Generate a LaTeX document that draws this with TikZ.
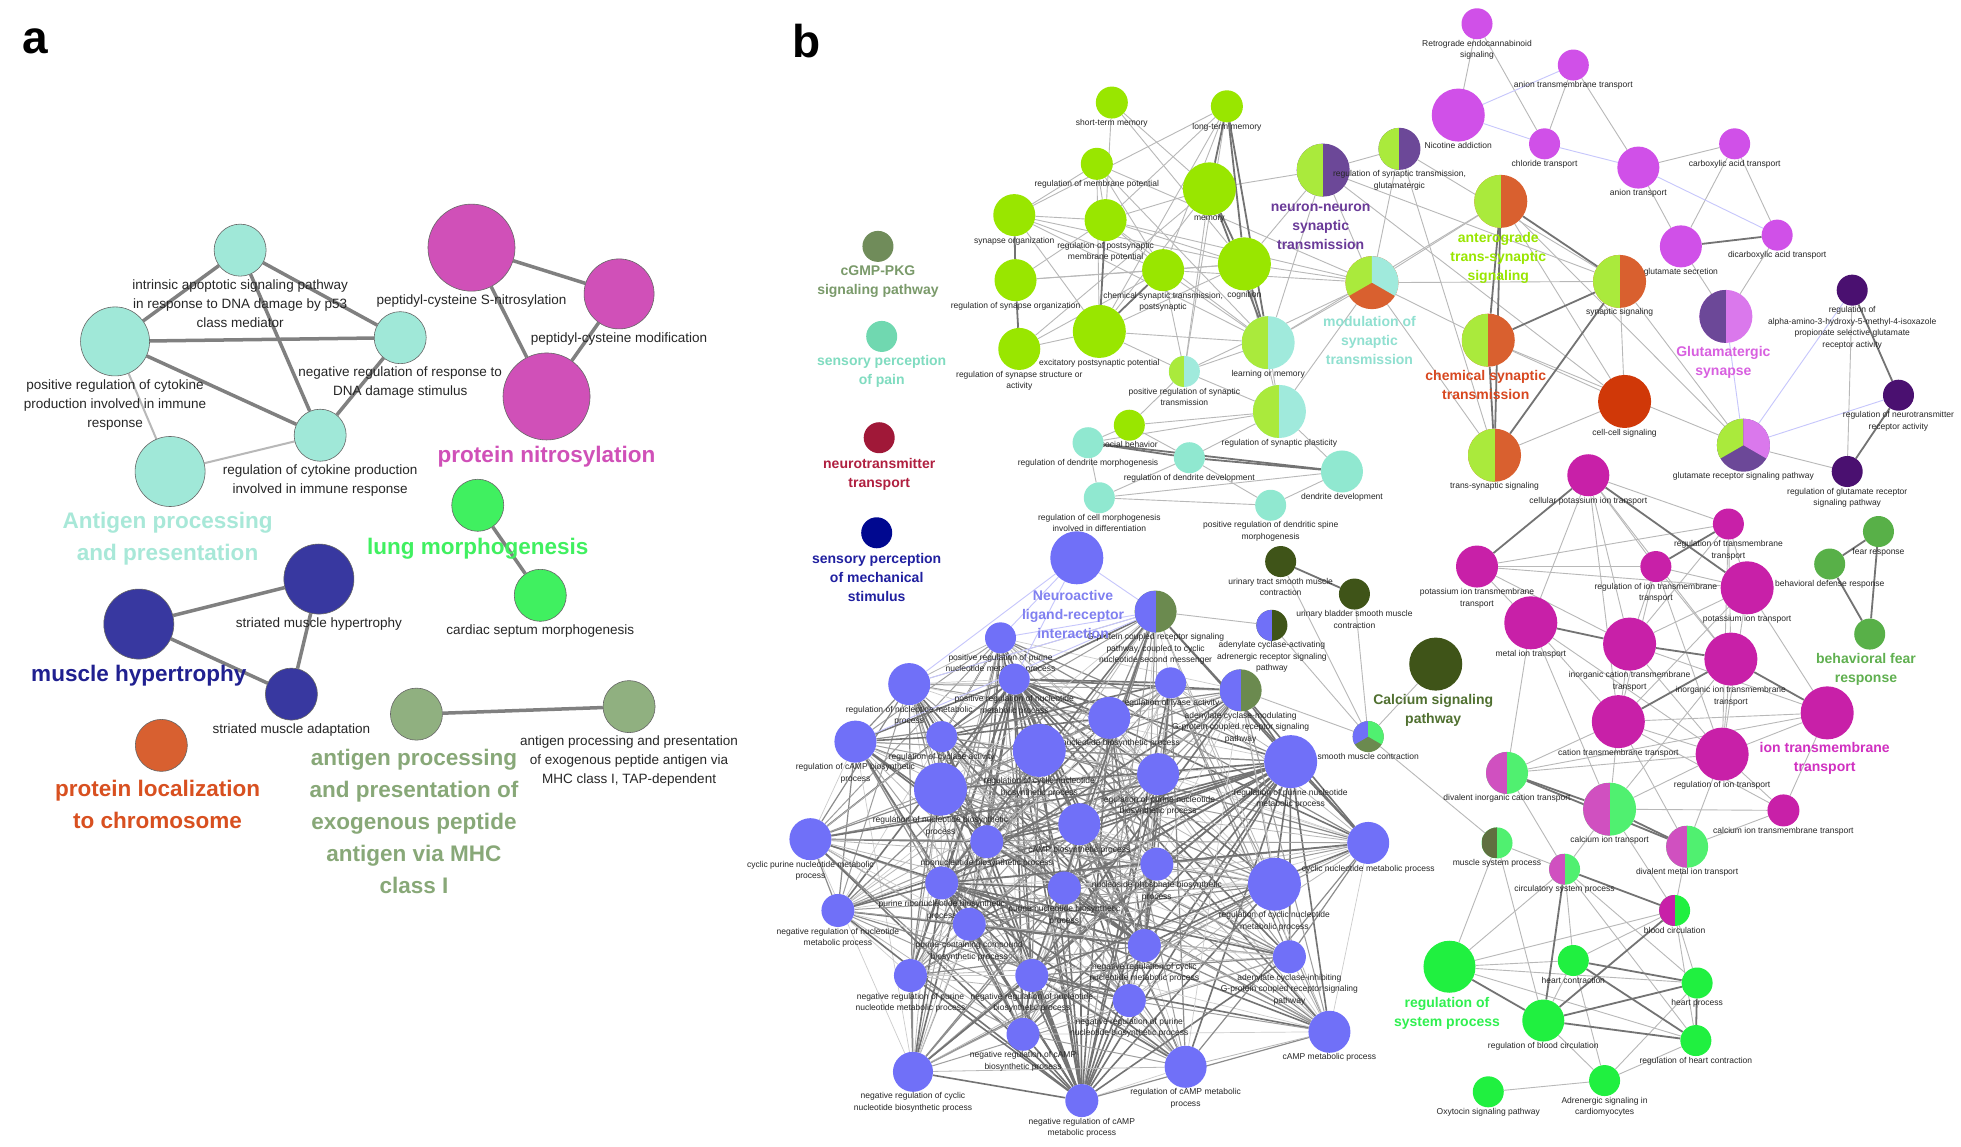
\documentclass[tikz,border=0pt]{standalone}
\usepackage{fontspec}
\setmainfont{Liberation Sans}
\usetikzlibrary{backgrounds}
% panel a colours
\definecolor{aqA}{RGB}{160,232,216}
\definecolor{aqAt}{RGB}{168,232,216}
\definecolor{magA}{RGB}{208,80,184}
\definecolor{lungA}{RGB}{64,240,96}
\definecolor{musA}{RGB}{56,56,160}
\definecolor{musAt}{RGB}{32,32,144}
\definecolor{locA}{RGB}{216,96,48}
\definecolor{locAt}{RGB}{216,80,32}
\definecolor{exoA}{RGB}{144,176,128}
\definecolor{exoAt}{RGB}{136,168,120}
% panel b colours
\definecolor{limeN}{RGB}{153,230,0}
\definecolor{limeP}{RGB}{170,234,60}
\definecolor{aquaN}{RGB}{144,232,208}
\definecolor{aquaP}{RGB}{160,234,220}
\definecolor{purpN}{RGB}{108,72,152}
\definecolor{orangeN}{RGB}{217,96,47}
\definecolor{redN}{RGB}{208,56,8}
\definecolor{violetN}{RGB}{208,80,232}
\definecolor{pinkN}{RGB}{218,120,236}
\definecolor{plumN}{RGB}{74,16,112}
\definecolor{fearN}{RGB}{88,176,72}
\definecolor{ionN}{RGB}{200,32,168}
\definecolor{magP}{RGB}{208,80,192}
\definecolor{sysN}{RGB}{32,240,64}
\definecolor{sysP}{RGB}{80,240,112}
\definecolor{caN}{RGB}{63,84,24}
\definecolor{oliveN}{RGB}{107,138,79}
\definecolor{oliveD}{RGB}{96,112,64}
\definecolor{blueN}{RGB}{112,112,248}
\definecolor{cgmpN}{RGB}{112,140,90}
\definecolor{painN}{RGB}{112,216,176}
\definecolor{ntN}{RGB}{160,24,56}
\definecolor{mechN}{RGB}{0,8,144}
% big label colours
\definecolor{purpT}{RGB}{106,58,152}
\definecolor{aquaT}{RGB}{144,224,208}
\definecolor{orangeT}{RGB}{216,72,32}
\definecolor{pinkT}{RGB}{216,96,224}
\definecolor{ionT}{RGB}{208,48,192}
\definecolor{sysT}{RGB}{48,240,80}
\definecolor{caT}{RGB}{80,112,48}
\definecolor{blueT}{RGB}{128,128,240}
\definecolor{cgmpT}{RGB}{122,154,106}
\definecolor{painT}{RGB}{128,220,192}
\definecolor{ntT}{RGB}{176,32,64}
\definecolor{mechT}{RGB}{32,32,160}
\definecolor{fearT}{RGB}{96,176,80}
\tikzset{
  dot/.style={circle,fill=#1,inner sep=0pt},
  adot/.style={circle,fill=#1,draw=black!60,line width=0.6pt,inner sep=0pt},
  half/.style 2 args={circle,inner sep=0pt,fill=#2,path picture={
    \fill[#1] (path picture bounding box.south west) rectangle (path picture bounding box.north);}},
  tri/.style n args={3}{circle,inner sep=0pt,fill=#3,path picture={
    \fill[#1] (path picture bounding box.center) -- +(90:40pt) arc[start angle=90,end angle=210,radius=40pt] -- cycle;
    \fill[#2] (path picture bounding box.center) -- +(90:40pt) arc[start angle=90,end angle=-30,radius=40pt] -- cycle;}},
  lab/.style={font=\fontsize{8.5}{11.5}\selectfont,text=black!85,align=center,inner sep=0.5pt,label distance=0pt},
  alab/.style={font=\fontsize{13.5}{19}\selectfont,text=black!85,align=center,inner sep=1pt,label distance=2pt},
  big/.style={font=\fontsize{14}{19}\selectfont\bfseries,text=#1,align=center},
  abig/.style={font=\fontsize{22.5}{32}\selectfont\bfseries,text=#1,align=center},
  panel/.style={font=\fontsize{46}{46}\selectfont\bfseries},
  aed/.style={draw=black!50,line width=3.5pt},
  aedl/.style={draw=black!28,line width=2pt},
  e/.style={draw=black!28,line width=0.9pt},
  ew/.style={draw=black!55,line width=1.8pt},
  eb/.style={draw=blueN!40,line width=0.9pt},
  be0/.style={draw=black!55,line width=1.6pt},
  be1/.style={draw=black!45,line width=1.2pt},
  be2/.style={draw=black!38,line width=1pt},
  be3/.style={draw=black!28,line width=0.8pt},
  be4/.style={draw=black!20,line width=0.7pt},
}
\begin{document}
\begin{tikzpicture}[x=1.25pt,y=-1.25pt]
\useasboundingbox (0,0) rectangle (1568,917);
\node[panel] (pa) at (28,33) {a};
\node[panel] (pb) at (645,33) {b};

% ---- panel a
\node[adot=aqA,minimum size=52pt,label={[alab]below:intrinsic apoptotic signaling pathway\\in response to DNA damage by p53\\class mediator}] (a1) at (192,200) {};
\node[adot=aqA,minimum size=69pt,label={[alab]below:positive regulation of cytokine\\production involved in immune\\response}] (a2) at (92,273) {};
\node[adot=aqA,minimum size=52pt,label={[alab]below:negative regulation of response to\\DNA damage stimulus}] (a3) at (320,270) {};
\node[adot=aqA,minimum size=52pt,label={[alab]below:regulation of cytokine production\\involved in immune response}] (a4) at (256,348) {};
\node[adot=aqA,minimum size=70pt] (a5) at (136,377) {};
\node[adot=magA,minimum size=87pt,label={[alab]below:peptidyl-cysteine S-nitrosylation}] (m1) at (377,198) {};
\node[adot=magA,minimum size=70pt,label={[alab]below:peptidyl-cysteine modification}] (m2) at (495,235) {};
\node[adot=magA,minimum size=87pt] (m3) at (437,317) {};
\node[adot=lungA,minimum size=52pt] (l1) at (382,404) {};
\node[adot=lungA,minimum size=52pt,label={[alab]below:cardiac septum morphogenesis}] (l2) at (432,476) {};
\node[adot=musA,minimum size=70pt] (mh1) at (111,499) {};
\node[adot=musA,minimum size=70pt,label={[alab]below:striated muscle hypertrophy}] (mh2) at (255,463) {};
\node[adot=musA,minimum size=52pt,label={[alab]below:striated muscle adaptation}] (mh3) at (233,555) {};
\node[adot=locA,minimum size=52pt] (o1) at (129,596) {};
\node[adot=exoA,minimum size=52pt] (g1) at (333,571) {};
\node[adot=exoA,minimum size=52pt,label={[alab]below:antigen processing and presentation\\of exogenous peptide antigen via\\MHC class I, TAP-dependent}] (g2) at (503,565) {};
\node[abig=aqAt] (tAP) at (134,431) {Antigen processing\\and presentation};
\node[abig=magA] (tPN) at (437,365) {protein nitrosylation};
\node[abig=lungA] (tLM) at (382,439) {lung morphogenesis};
\node[abig=musAt] (tMH) at (111,540) {muscle hypertrophy};
\node[abig=locAt] (tPL) at (126,643) {protein localization\\to chromosome};
\node[abig=exoAt] (tEX) at (331,657) {antigen processing\\and presentation of\\exogenous peptide\\antigen via MHC\\class I};

% ---- panel b: legend
\node[dot=cgmpN,minimum size=31pt] (lg1) at (702,197) {};
\node[dot=painN,minimum size=31pt] (lg2) at (705,269) {};
\node[dot=ntN,minimum size=31pt] (lg3) at (703,350) {};
\node[dot=mechN,minimum size=31pt] (lg4) at (701,426) {};
\node[big=cgmpT] (tCG) at (702,225) {cGMP-PKG\\signaling pathway};
\node[big=painT] (tSP) at (705,297) {sensory perception\\of pain};
\node[big=ntT] (tNT) at (703,379) {neurotransmitter\\transport};
\node[big=mechT] (tSM) at (701,462) {sensory perception\\of mechanical\\stimulus};

% ---- panel b: plain nodes
\foreach \n/\x/\y/\dm/\txt in {stm/889/82/32/{short-term memory}, ltm/981/85/32/{long-term memory},
    rmp/877/131/32/{regulation of membrane potential}, mem/967/151/53/{memory},
    syo/811/172/42/{synapse organization}, rpmp/884/176/42/{regulation of postsynaptic\\membrane potential},
    cstp/930/216/42/{chemical synaptic transmission,\\postsynaptic}, cog/995/211/53/{cognition},
    rso/812/224/42/{regulation of synapse organization}, rssa/815/279/42/{regulation of synapse structure or\\activity},
    epp/879/265/53/{excitatory postsynaptic potential}, sob/903/340/31/{social behavior}}
  \node[dot=limeN,minimum size=\dm pt,label={[lab]below:\txt}] (\n) at (\x,\y) {};
\foreach \n/\x/\y/\dm/\txt in {rdm/870/354/31/{regulation of dendrite morphogenesis},
    rdd/951/366/31/{regulation of dendrite development},
    rcm/879/398/31/{regulation of cell morphogenesis\\involved in differentiation},
    dd/1073/377/42/{dendrite development},
    prdsm/1016/404/31/{positive regulation of dendritic spine\\morphogenesis}}
  \node[dot=aquaN,minimum size=\dm pt,label={[lab]below:\txt}] (\n) at (\x,\y) {};
\foreach \n/\x/\y/\dm/\txt in {res/1181/19/31/{Retrograde endocannabinoid\\signaling}, nic/1166/92/53/{Nicotine addiction},
    atm/1258/52/31/{anion transmembrane transport}, clt/1235/115/31/{chloride transport},
    ant/1310/134/42/{anion transport}, cat/1387/115/31/{carboxylic acid transport},
    gls/1344/197/42/{glutamate secretion}, dct/1421/188/31/{dicarboxylic acid transport}}
  \node[dot=violetN,minimum size=\dm pt,label={[lab]below:\txt}] (\n) at (\x,\y) {};
\foreach \n/\x/\y/\dm/\txt in {ampa/1481/232/31/{regulation of\\alpha-amino-3-hydroxy-5-methyl-4-isoxazole\\propionate selective glutamate\\receptor activity},
    rnra/1518/316/31/{regulation of neurotransmitter\\receptor activity},
    rgrsp/1477/377/31/{regulation of glutamate receptor\\signaling pathway}}
  \node[dot=plumN,minimum size=\dm pt,label={[lab]below:\txt}] (\n) at (\x,\y) {};
\foreach \n/\x/\y/\dm/\txt in {fr/1502/425/31/{fear response}, bdr/1463/451/31/{behavioral defense response}}
  \node[dot=fearN,minimum size=\dm pt,label={[lab]below:\txt}] (\n) at (\x,\y) {};
\node[dot=fearN,minimum size=31pt] (bfr) at (1495,507) {};
\foreach \n/\x/\y/\dm/\txt in {cpit/1270/380/42/{cellular potassium ion transport},
    rtt/1382/419/31/{regulation of transmembrane\\transport},
    pitt/1181/453/42/{potassium ion transmembrane\\transport},
    ritt/1324/453/31/{regulation of ion transmembrane\\transport},
    pit/1397/470/53/{potassium ion transport}, mit/1224/498/53/{metal ion transport},
    icat/1303/515/53/{inorganic cation transmembrane\\transport},
    iitt/1384/527/53/{inorganic ion transmembrane\\transport},
    ctt/1294/577/53/{cation transmembrane transport}, rit/1377/603/53/{regulation of ion transport},
    catt/1426/648/32/{calcium ion transmembrane transport}}
  \node[dot=ionN,minimum size=\dm pt,label={[lab]below:\txt}] (\n) at (\x,\y) {};
\node[dot=ionN,minimum size=53pt] (itt) at (1461,570) {};
\foreach \n/\x/\y/\dm/\txt in {hc/1258/768/31/{heart contraction}, hp/1357/786/31/{heart process},
    rbc/1234/816/42/{regulation of blood circulation}, rhc/1356/832/31/{regulation of heart contraction},
    asc/1283/864/31/{Adrenergic signaling in\\cardiomyocytes}, osp/1190/873/31/{Oxytocin signaling pathway}}
  \node[dot=sysN,minimum size=\dm pt,label={[lab]below:\txt}] (\n) at (\x,\y) {};
\node[dot=sysN,minimum size=52pt] (rsp2) at (1159,773) {};
\foreach \n/\x/\y/\dm/\txt in {utsmc/1024/449/31/{urinary tract smooth muscle\\contraction},
    ubsmc/1083/475/31/{urinary bladder smooth muscle\\contraction}}
  \node[dot=caN,minimum size=\dm pt,label={[lab]below:\txt}] (\n) at (\x,\y) {};
\node[dot=caN,minimum size=53pt] (csig) at (1148,531) {};
\node[dot=redN,minimum size=53pt,label={[lab]below:cell-cell signaling}] (ccs) at (1299,321) {};
\node[dot=blueN,minimum size=53pt] (nla) at (861,446) {};
\foreach \n/\x/\y/\dm/\txt in {1/800/510/31/{positive regulation of purine\\nucleotide metabolic process},
    2/727/547/42/{regulation of nucleotide metabolic\\process},
    3/811/543/31/{positive regulation of nucleotide\\metabolic process},
    4/936/546/31/{regulation of lyase activity},
    5/887/574/42/{cyclic nucleotide biosynthetic process},
    6/684/593/42/{regulation of cAMP biosynthetic\\process},
    7/753/589/31/{regulation of cyclase activity},
    8/831/600/53/{regulation of cyclic nucleotide\\biosynthetic process},
    9/926/619/42/{regulation of purine nucleotide\\biosynthetic process},
    10/1032/609/53/{regulation of purine nucleotide\\metabolic process},
    11/752/631/53/{regulation of nucleotide biosynthetic\\process},
    12/863/659/42/{cAMP biosynthetic process},
    13/648/671/42/{cyclic purine nucleotide metabolic\\process},
    14/789/673/33/{ribonucleotide biosynthetic process},
    15/925/691/33/{nucleoside phosphate biosynthetic\\process},
    16/1019/707/53/{regulation of cyclic nucleotide\\metabolic process},
    17/753/706/33/{purine ribonucleotide biosynthetic\\process},
    18/851/710/33/{purine nucleotide biosynthetic\\process},
    19/670/728/33/{negative regulation of nucleotide\\metabolic process},
    20/775/739/33/{purine-containing compound\\biosynthetic process},
    21/915/756/33/{negative regulation of cyclic\\nucleotide metabolic process},
    22/1031/765/33/{adenylate cyclase-inhibiting\\G-protein coupled receptor signaling\\pathway},
    23/728/780/33/{negative regulation of purine\\nucleotide metabolic process},
    24/825/780/33/{negative regulation of nucleotide\\biosynthetic process},
    25/903/800/33/{negative regulation of purine\\nucleotide biosynthetic process},
    26/818/827/33/{negative regulation of cAMP\\biosynthetic process},
    27/730/857/40/{negative regulation of cyclic\\nucleotide biosynthetic process},
    28/865/880/33/{negative regulation of cAMP\\metabolic process},
    29/948/853/42/{regulation of cAMP metabolic\\process},
    30/1063/825/42/{cAMP metabolic process},
    31/1094/674/42/{cyclic nucleotide metabolic process}}
  \node[dot=blueN,minimum size=\dm pt,label={[lab]below:\txt}] (b\n) at (\x,\y) {};

% ---- panel b: pie nodes
\node[half={limeP}{aquaP},minimum size=31pt,label={[lab]below:positive regulation of synaptic\\transmission}] (prst) at (947,297) {};
\node[half={limeP}{aquaP},minimum size=53pt,label={[lab]below:learning or memory}] (lom) at (1014,274) {};
\node[half={limeP}{aquaP},minimum size=53pt,label={[lab]below:regulation of synaptic plasticity}] (rsp) at (1023,329) {};
\node[half={limeP}{purpN},minimum size=53pt] (nnst) at (1058,136) {};
\node[half={limeP}{purpN},minimum size=42pt,label={[lab]below:regulation of synaptic transmission,\\glutamatergic}] (rstg) at (1119,119) {};
\node[tri={limeP}{aquaP}{orangeN},minimum size=53pt] (mst) at (1097,226) {};
\node[half={limeP}{orangeN},minimum size=53pt] (ats) at (1200,161) {};
\node[half={limeP}{orangeN},minimum size=53pt,label={[lab]below:synaptic signaling}] (sys) at (1295,225) {};
\node[half={limeP}{orangeN},minimum size=53pt] (cst) at (1190,272) {};
\node[half={limeP}{orangeN},minimum size=53pt,label={[lab]below:trans-synaptic signaling}] (tss) at (1195,364) {};
\node[half={purpN}{pinkN},minimum size=53pt] (glsyn) at (1380,253) {};
\node[tri={limeP}{pinkN}{purpN},minimum size=53pt,label={[lab]below:glutamate receptor signaling pathway}] (grsp) at (1394,356) {};
\node[half={blueN}{oliveN},minimum size=42pt,label={[lab]below:G-protein coupled receptor signaling\\pathway, coupled to cyclic\\nucleotide second messenger}] (b32) at (924,489) {};
\node[half={blueN}{oliveN},minimum size=42pt,label={[lab]below:adenylate cyclase-modulating\\G-protein coupled receptor signaling\\pathway}] (b33) at (992,552) {};
\node[half={blueN}{caN},minimum size=31pt,label={[lab]below:adenylate cyclase-activating\\adrenergic receptor signaling\\pathway}] (acaa) at (1017,500) {};
\node[tri={blueN}{sysP}{oliveN},minimum size=31pt,label={[lab]below:smooth muscle contraction}] (smc) at (1094,589) {};
\node[half={magP}{sysP},minimum size=42pt,label={[lab]below:divalent inorganic cation transport}] (dict) at (1205,618) {};
\node[half={magP}{sysP},minimum size=53pt,label={[lab]below:calcium ion transport}] (cit) at (1287,647) {};
\node[half={magP}{sysP},minimum size=42pt,label={[lab]below:divalent metal ion transport}] (dmit) at (1349,677) {};
\node[half={oliveD}{sysP},minimum size=31pt,label={[lab]below:muscle system process}] (msp) at (1197,674) {};
\node[half={magP}{sysP},minimum size=31pt,label={[lab]below:circulatory system process}] (csp) at (1251,695) {};
\node[half={ionN}{sysN},minimum size=31pt,label={[lab]below:blood circulation}] (bc) at (1339,728) {};

% ---- panel b: cluster names
\node[big=purpT] (tNN) at (1056,181) {neuron-neuron\\synaptic\\transmission};
\node[big=aquaT] (tMS) at (1095,272) {modulation of\\synaptic\\transmission};
\node[big=limeN] (tAT) at (1198,206) {anterograde\\trans-synaptic\\signaling};
\node[big=orangeT] (tCS) at (1188,308) {chemical synaptic\\transmission};
\node[big=pinkT] (tGS) at (1378,290) {Glutamatergic\\synapse};
\node[big=fearT] (tBF) at (1492,535) {behavioral fear\\response};
\node[big=ionT] (tIT) at (1459,606) {ion transmembrane\\transport};
\node[big=sysT] (tRS) at (1157,810) {regulation of\\system process};
\node[big=caT] (tCa) at (1146,568) {Calcium signaling\\pathway};
\node[big=blueT] (tNL) at (858,491) {Neuroactive\\ligand-receptor\\interaction};

% ---- edges
\begin{scope}[on background layer]
  \fill[white] (0,0) rectangle (1568,917);
  \foreach \p/\q in {a1/a2,a1/a3,a1/a4,a2/a3,a2/a4,a3/a4,m1/m2,m1/m3,m2/m3,l1/l2,mh1/mh2,mh1/mh3,mh2/mh3,g1/g2}
    \draw[aed] (\p) -- (\q);
  \foreach \p/\q in {a2/a5,a5/a4} \draw[aedl] (\p) -- (\q);
  % blue mesh
  \foreach \i in {1,...,32}{
    \pgfmathtruncatemacro{\kk}{\i+1}
    \foreach \j in {\kk,...,33}{
      \pgfmathtruncatemacro{\rr}{mod(\i*7+\j*11+\i*\j,7)}
      \ifnum\rr<5 \draw[be\rr] (b\i) -- (b\j); \fi
    }
  }
  \foreach \p/\q in {stm/mem,stm/cog,stm/rpmp,rmp/syo,rmp/rpmp,rmp/cstp,rmp/epp,rmp/lom,rmp/mst,
      ltm/rpmp,ltm/cstp,ltm/epp,ltm/prst,ltm/syo,mem/rpmp,mem/nnst,mem/prst,mem/rssa,mem/epp,
      syo/rpmp,syo/cstp,syo/epp,syo/cog,syo/lom,rso/rpmp,rso/cstp,rso/cog,
      rpmp/cstp,rpmp/cog,rpmp/lom,rpmp/mst,cstp/cog,cstp/prst,cstp/mst,cstp/lom,
      rssa/epp,rssa/cstp,epp/lom,epp/prst,epp/cog,cog/mst,cog/nnst,cog/rsp,
      lom/prst,lom/mst,lom/nnst,lom/rsp,lom/ats,prst/rsp,prst/sob,prst/mst,
      nnst/rstg,nnst/mst,nnst/sys,nnst/ccs,rstg/mst,rstg/sys,rstg/tss,
      mst/ats,mst/sys,mst/cst,mst/rsp,mst/tss,ats/ccs,sys/ccs,cst/ccs,ccs/tss,
      sys/grsp,cst/grsp,ats/grsp,rsp/sob,rsp/rdd,rsp/rdm,rsp/dd,sob/rdm,sob/rdd,
      rdm/rcm,rcm/dd,rcm/rdd,rdd/prdsm,rcm/prdsm,dd/prdsm,
      res/nic,res/clt,atm/clt,atm/ant,ant/cat,ant/gls,cat/gls,cat/dct,gls/glsyn,dct/glsyn,
      grsp/rgrsp,ampa/rgrsp,
      cpit/ritt,cpit/rtt,cpit/mit,cpit/icat,cpit/iitt,cpit/ctt,rtt/pitt,rtt/pit,rtt/icat,rtt/iitt,rtt/rit,
      pitt/pit,pitt/mit,pitt/icat,pitt/ritt,ritt/pit,ritt/icat,ritt/iitt,ritt/ctt,ritt/rit,
      pit/icat,pit/itt,pit/ctt,pit/rit,mit/ctt,mit/dict,mit/cit,mit/rit,icat/ctt,icat/itt,icat/rit,
      iitt/ctt,iitt/rit,iitt/cit,ctt/itt,ctt/rit,ctt/cit,ctt/dict,ctt/dmit,ctt/catt,
      rit/itt,rit/catt,rit/cit,rit/dmit,itt/catt,itt/dict,catt/cit,catt/dmit,
      cit/csp,cit/bc,dmit/bc,dict/csp,dict/rit,
      rsp2/csp,rsp2/bc,rsp2/hc,rsp2/hp,rsp2/rhc,rsp2/msp,hc/rbc,hc/csp,hc/bc,hp/bc,rhc/bc,rhc/csp,
      asc/osp,asc/rbc,asc/rhc,asc/hc,asc/hp,csp/msp,csp/hp,msp/rbc,msp/smc,
      utsmc/smc,ubsmc/smc,csig/smc,b33/smc,b32/acaa,acaa/smc}
    \draw[e] (\p) -- (\q);
  \foreach \p/\q in {ltm/mem,ltm/cog,ltm/lom,mem/cog,mem/lom,cog/lom,syo/rso,rso/rssa,rpmp/epp,cstp/epp,
      ats/sys,ats/cst,ats/tss,sys/cst,sys/tss,cst/tss,rdm/dd,rdm/rdd,rdd/dd,
      gls/dct,ampa/rnra,rnra/rgrsp,fr/bdr,fr/bfr,bdr/bfr,
      cpit/pitt,cpit/pit,rtt/ritt,icat/iitt,mit/icat,iitt/itt,ctt/iitt,
      dict/cit,dict/dmit,cit/dmit,
      rsp2/rbc,hc/hp,hc/rhc,hp/rhc,rbc/csp,csp/bc,rbc/rhc,rbc/hp,bc/rbc,utsmc/ubsmc}
    \draw[ew] (\p) -- (\q);
  \foreach \p/\q in {nic/atm,nic/clt,clt/ant,ant/dct,glsyn/grsp,grsp/ampa,grsp/rnra,
      nla/b32,nla/b1,nla/b2,nla/b3,b32/b1,b32/b2,b32/b6}
    \draw[eb] (\p) -- (\q);
\end{scope}
\end{tikzpicture}
\end{document}
